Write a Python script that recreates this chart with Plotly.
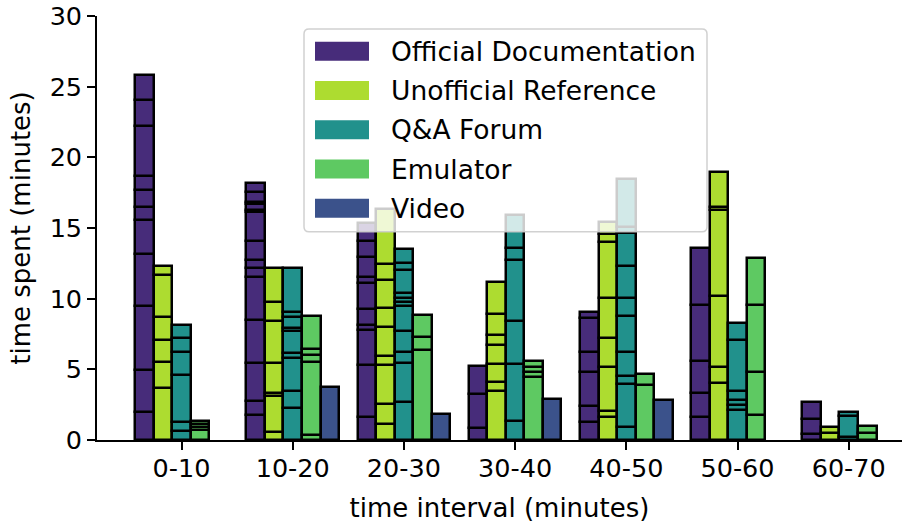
import plotly.graph_objects as go
import numpy as np

groups = ["0-10", "10-20", "20-30", "30-40", "40-50", "50-60", "60-70"]
resources = ["Official Documentation", "Unofficial Reference", "Q&A Forum", "Emulator", "Video"]
colors = ["#472c7a", "#addc30", "#21918c", "#5ec962", "#3b528b"]

# minutes spent per stacked segment, for each interval
official_doc = [
    [1.96, 2.99, 4.51, 3.68, 2.43, 0.89, 1.23, 1.01, 3.50, 1.84, 1.79],
    [1.79, 0.95, 2.69, 3.06, 3.02, 0.64, 0.61, 1.34, 2.01, 0.19, 0.38, 0.14, 0.75, 0.59],
    [1.61, 3.72, 2.45, 0.36, 1.13, 1.82, 0.47, 1.37, 1.13, 1.29],
    [0.83, 2.42, 1.96],
    [1.25, 1.13, 2.41, 1.46, 2.36, 0.42],
    [1.61, 1.69, 2.31, 3.96, 3.99],
    [0.42, 1.04, 1.21],
]
unofficial_ref = [
    [3.66, 1.84, 1.57, 1.65, 2.95, 0.62],
    [0.54, 2.57, 0.20, 2.12, 3.01, 1.35, 2.38],
    [1.13, 1.42, 2.78, 0.64, 2.00, 1.35, 2.00, 1.13, 3.90],
    [3.44, 0.64, 1.30, 1.34, 0.71, 1.49, 2.28],
    [1.61, 0.42, 3.11, 2.08, 2.81, 4.00, 0.55, 0.82],
    [4.03, 1.11, 5.07, 6.09, 0.20, 2.48],
    [0.50, 0.40],
]
qa_forum = [
    [0.62, 0.63, 3.35, 1.60, 0.99, 0.97],
    [2.26, 1.23, 2.29, 0.35, 1.60, 0.17, 0.78, 0.40, 3.09],
    [2.71, 2.71, 0.83, 1.48, 1.77, 0.24, 0.29, 0.35, 1.65, 0.47, 1.01],
    [1.37, 4.01, 3.06, 4.30, 0.82, 2.34],
    [0.90, 3.06, 0.59, 1.66, 2.59, 1.23, 2.26, 2.36, 0.45, 3.37],
    [2.12, 0.36, 0.37, 0.60, 3.65, 1.16],
    [0.24, 1.44, 0.28],
]
emulator = [
    [0.71, 0.22, 0.22, 0.22],
    [0.38, 5.16, 0.47, 0.43, 2.36],
    [6.37, 0.94, 1.53],
    [4.48, 0.35, 0.36, 0.38],
    [3.89, 0.78],
    [1.77, 3.06, 4.74, 3.29],
    [0.47, 0.50],
]
video = [
    [],
    [3.73],
    [1.84],
    [2.90],
    [2.85],
    [],
    [],
]
series = [official_doc, unofficial_ref, qa_forum, emulator, video]

W, H = 902, 523
L, R, T, B = 97, 902, 16, 440.5
BAR_W = 1 / 6
FONT = "DejaVu Sans"

fig = go.Figure()
for k, (name, data, col) in enumerate(zip(resources, series, colors)):
    xs, ys, bases = [], [], []
    for g, segs in enumerate(data):
        cum = np.concatenate([[0], np.cumsum(segs)])
        for j, s in enumerate(segs):
            xs.append(g + (k - 2) * BAR_W)
            ys.append(s)
            bases.append(cum[j])
    fig.add_trace(go.Bar(
        x=xs, y=ys, base=bases, width=BAR_W, name=name,
        marker=dict(color=col, line=dict(color="black", width=2.5)),
        showlegend=False,
    ))

def px(xp):
    return (xp - L) / (R - L)

def py(yp):
    return (B - yp) / (B - T)

shapes = []
annotations = []
# custom legend box (semi-transparent, over bars)
x0, x1, y0, y1, r = 304, 707, 29, 232, 5
rx, ry = r / (R - L), r / (B - T)
X0, X1, Y0, Y1 = px(x0), px(x1), py(y1), py(y0)
path = (f"M{X0+rx},{Y0} L{X1-rx},{Y0} Q{X1},{Y0} {X1},{Y0+ry} L{X1},{Y1-ry} "
        f"Q{X1},{Y1} {X1-rx},{Y1} L{X0+rx},{Y1} Q{X0},{Y1} {X0},{Y1-ry} "
        f"L{X0},{Y0+ry} Q{X0},{Y0} {X0+rx},{Y0} Z")
shapes.append(dict(type="path", xref="paper", yref="paper", path=path,
                   fillcolor="rgba(255,255,255,0.8)",
                   line=dict(color="rgba(204,204,204,0.9)", width=1.5), layer="above"))
for k, (name, col) in enumerate(zip(resources, colors)):
    cy = 51.3 + k * 39.3
    shapes.append(dict(type="rect", xref="paper", yref="paper",
                       x0=px(315), x1=px(369), y0=py(cy + 9.5), y1=py(cy - 9.5),
                       fillcolor=col, line=dict(width=0), layer="above"))
    annotations.append(dict(xref="paper", yref="paper", x=px(389), y=py(cy),
                            xanchor="left", yanchor="middle", text=name, showarrow=False,
                            font=dict(family=FONT, size=26.5, color="black")))

fig.update_layout(
    width=W, height=H,
    margin=dict(l=L, r=W - R, t=T, b=H - B),
    plot_bgcolor="white", paper_bgcolor="white",
    barmode="overlay", bargap=0,
    font=dict(family=FONT, size=25, color="black"),
    shapes=shapes, annotations=annotations,
    xaxis=dict(
        range=[-0.76, (R - 181.5) / 111.2], tickmode="array",
        tickvals=list(range(len(groups))), ticktext=groups,
        tickfont=dict(family=FONT, size=25.5, color="black"),
        showgrid=False, zeroline=False, showline=True, linecolor="black", linewidth=1.6,
        ticks="outside", ticklen=8, tickwidth=1.6, tickcolor="black",
        ticklabelstandoff=-3,
        title=dict(text="time interval (minutes)", standoff=16,
                   font=dict(family=FONT, size=26, color="black")),
        automargin=False,
    ),
    yaxis=dict(
        range=[0, 30], tickvals=[0, 5, 10, 15, 20, 25, 30],
        tickfont=dict(family=FONT, size=25.5, color="black"),
        showgrid=False, zeroline=False, showline=True, linecolor="black", linewidth=1.6,
        ticks="outside", ticklen=8, tickwidth=1.6, tickcolor="black",
        title=dict(text="time spent (minutes)", standoff=12,
                   font=dict(family=FONT, size=26, color="black")),
        automargin=False,
    ),
)

fig.write_html("out.html")
